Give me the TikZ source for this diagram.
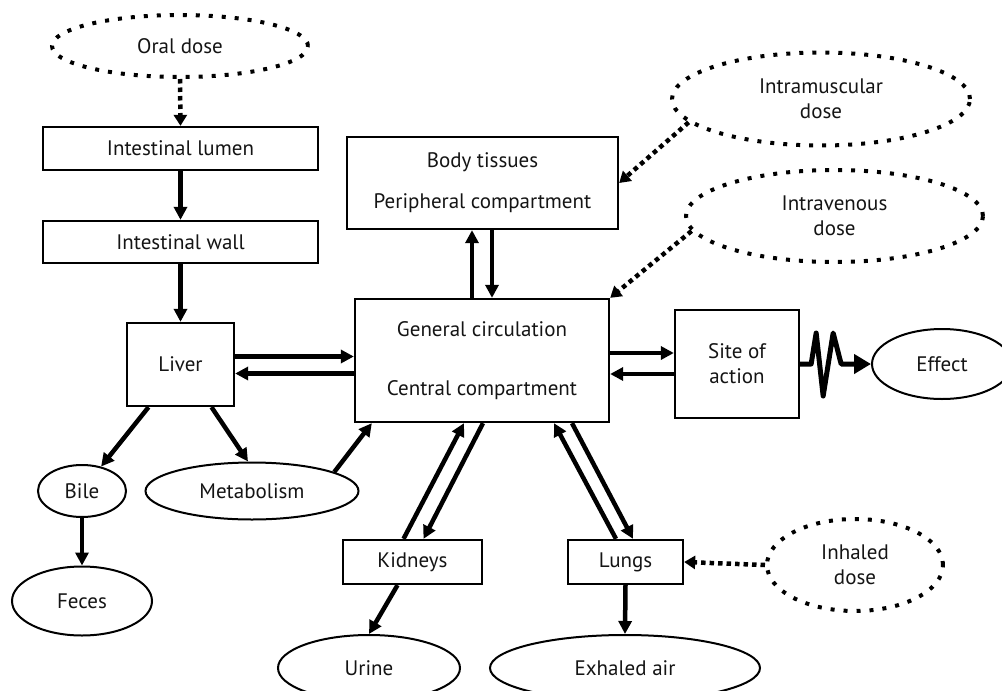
\documentclass[tikz,border=0pt]{standalone}
\usepackage{fontspec}
\setmainfont{PT Sans}
\usetikzlibrary{shapes.geometric,arrows.meta,calc}

\begin{document}
\begin{tikzpicture}[x=1pt,y=-1pt,
  every node/.style={font=\fontsize{21}{25}\selectfont, text=black!92},
  box/.style={draw, line width=2.3pt, inner sep=0pt, align=center},
  oval/.style={ellipse, draw, line width=2pt, inner sep=0pt, align=center},
  dotoval/.style={ellipse, draw, line width=4pt, dash pattern=on 4pt off 9pt, inner sep=0pt, align=center},
  arr/.style={line width=4.5pt, -{Triangle[length=13pt,width=13pt]}},
  dotarr/.style={line width=4.5pt, dash pattern=on 4.5pt off 4pt, -{Triangle[length=11pt,width=13pt]}},
  zig/.style={line width=5pt, line join=round, -{Triangle[length=17pt,width=19pt]}}
]
\useasboundingbox (0,0) rectangle (1002,691);

% oral route
\node[dotoval, minimum width=256pt, minimum height=62pt] (oral) at (180,46) {Oral dose};
\node[box, minimum width=275pt, minimum height=43pt] (lumen) at (180.5,148.5) {Intestinal lumen};
\node[box, minimum width=275pt, minimum height=42pt] (wall) at (180.5,242) {Intestinal wall};
\node[box, minimum width=107pt, minimum height=83pt] (liver) at (180.5,364.5) {Liver};
\node[oval, minimum width=88pt, minimum height=52pt] (bile) at (82,491) {Bile};
\node[oval, minimum width=213pt, minimum height=57pt] (meta) at (252,491) {Metabolism};
\node[oval, minimum width=140pt, minimum height=69pt] (feces) at (82,601) {Feces};

% compartments
\node[box, minimum width=271pt, minimum height=92pt] (body) at (482.5,183) {Body tissues\\[16pt]Peripheral compartment};
\node[box, minimum width=254pt, minimum height=123pt] (gen) at (482,360.5) {General circulation\\[34pt]Central compartment};
\node[box, minimum width=124pt, minimum height=108pt] (site) at (737,364) {Site of\\action};
\node[oval, minimum width=140pt, minimum height=70pt] (effect) at (942,364) {Effect};

% parenteral doses
\node[dotoval, minimum width=298pt, minimum height=93pt] (im) at (821,99) {Intramuscular\\dose};
\node[dotoval, minimum width=297pt, minimum height=92pt] (iv) at (834.5,216) {Intravenous\\dose};

% elimination organs
\node[box, minimum width=139pt, minimum height=44pt] (kid) at (412.5,562) {Kidneys};
\node[box, minimum width=115pt, minimum height=44pt] (lungs) at (625.5,562) {Lungs};
\node[dotoval, minimum width=176pt, minimum height=92pt] (inh) at (855,565) {Inhaled\\dose};
\node[oval, minimum width=182pt, minimum height=66pt] (urine) at (369,668) {Urine};
\node[oval, minimum width=270pt, minimum height=66pt] (exh) at (625,668) {Exhaled air};

% oral pathway
\draw[dotarr] (oral.south) -- (lumen.north);
\draw[arr] (lumen.south) -- (wall.north);
\draw[arr] (wall.south) -- (liver.north);
\draw[arr] ([yshift=8pt]liver.east) -- ([yshift=8pt]liver.east -| gen.west);
\draw[arr] ([yshift=-9pt]liver.east -| gen.west) -- ([yshift=-9pt]liver.east);
\draw[arr] ([xshift=-32pt]liver.south) -- (bile.52);
\draw[arr] ([xshift=31pt]liver.south) -- ([xshift=-4pt]meta.north);
\draw[arr] (meta.13) -- ([xshift=18pt]gen.south west);
\draw[arr] (bile.south) -- (feces.north);

% peripheral exchange
\draw[arr] ([xshift=-10pt]gen.north) -- ([xshift=-10pt]gen.north |- body.south);
\draw[arr] ([xshift=10pt]gen.north |- body.south) -- ([xshift=10pt]gen.north);

% site of action and effect
\draw[arr] ([yshift=11pt]site.west -| gen.east) -- ([yshift=11pt]site.west);
\draw[arr] ([yshift=-10pt]site.west) -- ([yshift=-10pt]site.west -| gen.east);
\draw[zig] (site.east) -- ++(11,0) -- ++(5,-31) -- ++(7,63) -- ++(10,-63) -- ++(8,31) -- (effect.west);

% kidneys and lungs
\draw[arr] ([xshift=-9pt]kid.north) -- ([xshift=-18pt]gen.south);
\draw[arr] ([xshift=1pt]gen.south) -- ([xshift=11pt]kid.north);
\draw[arr] ([xshift=-9.5pt]lungs.north) -- ([xshift=72pt]gen.south);
\draw[arr] ([xshift=90pt]gen.south) -- ([xshift=7.5pt]lungs.north);
\draw[arr] ([xshift=-15pt]kid.south) -- (urine.north);
\draw[arr] (lungs.south) -- (exh.north);

% dose routes
\draw[dotarr] (im.190) -- (body.east);
\draw[dotarr] (iv.186) -- (gen.north east);
\draw[dotarr] (inh.west) -- (lungs.east);
\end{tikzpicture}
\end{document}
